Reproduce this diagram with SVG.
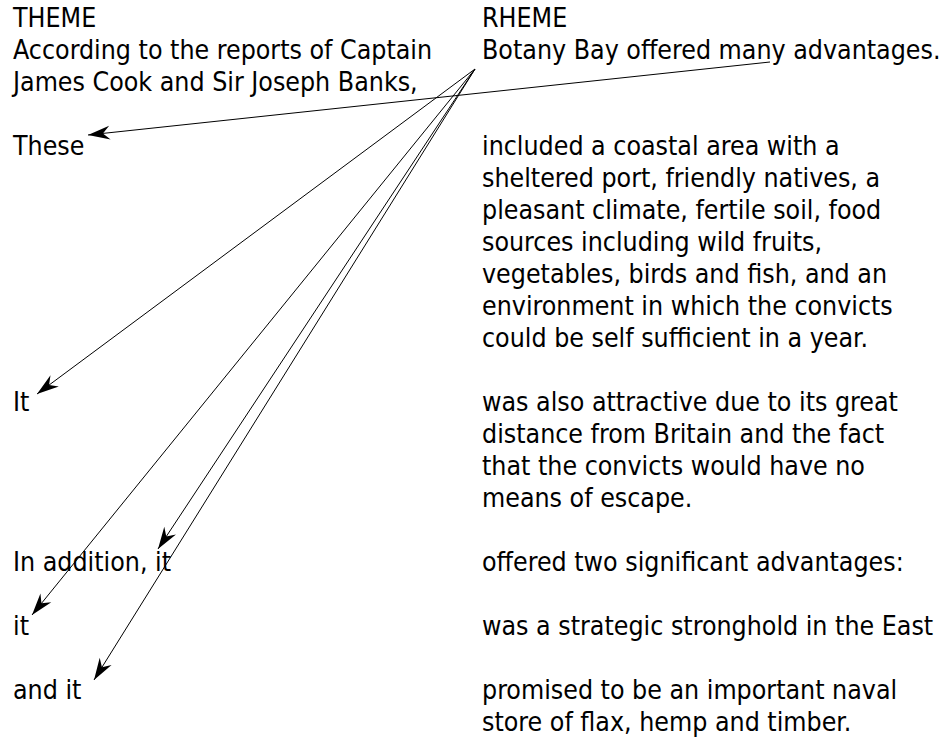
<svg xmlns="http://www.w3.org/2000/svg" width="944" height="739" viewBox="0 0 944 739">
<style>
text{font-family:"DejaVu Sans Condensed","Open Sans",sans-serif;font-stretch:condensed;font-size:26.5px;fill:#000}
.c line{stroke:#000;stroke-width:1;fill:none;marker-end:url(#ah)}
</style>
<defs>
<marker id="ah" viewBox="-1 -8 24 16" refX="22" refY="0" markerWidth="24" markerHeight="16" markerUnits="userSpaceOnUse" orient="auto">
<path d="M0,-7 L22,0 L0,7 L7,0 z" fill="#000"/>
</marker>
</defs>
<rect width="944" height="739" fill="#fff"/>
<g id="theme">
<text x="13" y="27">THEME</text>
<text x="13" y="59">According to the reports of Captain</text>
<text x="13" y="91">James Cook and Sir Joseph Banks,</text>
</g>
<g id="rheme">
<text x="482" y="27">RHEME</text>
<text x="482" y="59">Botany Bay offered many advantages.</text>
</g>
<g id="these"><text x="13" y="155">These</text></g>
<g id="r-included">
<text x="482" y="155">included a coastal area with a</text>
<text x="482" y="187">sheltered port, friendly natives, a</text>
<text x="482" y="219">pleasant climate, fertile soil, food</text>
<text x="482" y="251">sources including wild fruits,</text>
<text x="482" y="283">vegetables, birds and fish, and an</text>
<text x="482" y="315">environment in which the convicts</text>
<text x="482" y="347">could be self sufficient in a year.</text>
</g>
<g id="it1"><text x="13" y="411">It</text></g>
<g id="r-attractive">
<text x="482" y="411">was also attractive due to its great</text>
<text x="482" y="443">distance from Britain and the fact</text>
<text x="482" y="475">that the convicts would have no</text>
<text x="482" y="507">means of escape.</text>
</g>
<g id="inaddition"><text x="13" y="571">In addition, it</text></g>
<g id="r-offered"><text x="482" y="571">offered two significant advantages:</text></g>
<g id="it2"><text x="13" y="635">it</text></g>
<g id="r-strategic"><text x="482" y="635">was a strategic stronghold in the East</text></g>
<g id="andit"><text x="13" y="699">and it</text></g>
<g id="r-promised">
<text x="482" y="699">promised to be an important naval</text>
<text x="482" y="731">store of flax, hemp and timber.</text>
</g>
<g id="connectors" class="c">
<line x1="770" y1="62" x2="88" y2="135"/>
<line x1="475" y1="69" x2="37" y2="394"/>
<line x1="475" y1="69" x2="32" y2="615"/>
<line x1="475" y1="69" x2="158" y2="549"/>
<line x1="475" y1="69" x2="94" y2="680"/>
</g>
</svg>
